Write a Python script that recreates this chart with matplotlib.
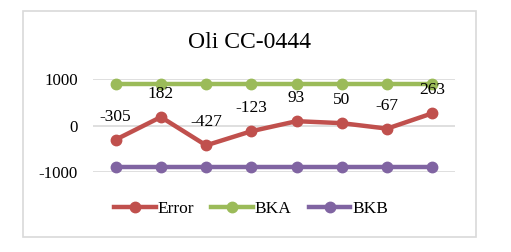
import matplotlib
matplotlib.use("Agg")
import matplotlib.pyplot as plt
from matplotlib.patches import Rectangle

title = "Oli CC-0444"
categories = list(range(1, 9))
error = [-305, 182, -427, -123, 93, 50, -67, 263]
bka = [900] * 8
bkb = [-900] * 8
yticks = [-1000, 0, 1000]

plt.rcParams['font.family'] = ['Liberation Serif', 'DejaVu Serif']

fig = plt.figure(figsize=(5.11, 2.52), dpi=100)
fig.patch.set_facecolor('white')
fig.patches.append(Rectangle((23/511, 1-237/252), (476-23)/511, (237-11)/252,
                             transform=fig.transFigure, fill=False,
                             edgecolor='#D9D9D9', linewidth=1.2))

ax = fig.add_axes([93/511, 1-172/252, (455-93)/511, (172-79)/252])
x = list(range(len(categories)))
lw = 3.2
ms = 7.5
ax.plot(x, error, color='#C0504D', lw=lw, marker='o', ms=ms, label='Error', clip_on=False, zorder=3)
ax.plot(x, bka, color='#9BBB59', lw=lw, marker='o', ms=ms, label='BKA', clip_on=False, zorder=3)
ax.plot(x, bkb, color='#8064A2', lw=lw, marker='o', ms=ms, label='BKB', clip_on=False, zorder=3)

for xi, v in zip(x, error):
    ax.annotate(str(v), (xi, v), xytext=(0, 16.5), textcoords='offset points',
                ha='center', va='center', fontsize=12.5, color='black', zorder=4)

ax.set_xlim(-0.5, len(categories) - 0.5)
ax.set_ylim(-1000, 1000)
ax.set_yticks(yticks)
ax.set_yticklabels([str(t) for t in yticks])
ax.set_xticks([])
ax.tick_params(axis='y', length=0, pad=11, labelsize=12.2)
ax.grid(axis='y', color='#D9D9D9', lw=1.2)
ax.set_axisbelow(True)
for s in ax.spines.values():
    s.set_visible(False)

fig.text(249/511, 1-42/252, title, ha='center', va='center', fontsize=17)

fig.legend(loc='center', bbox_to_anchor=(251/511, 1-209/252), ncol=3, frameon=False,
           fontsize=12.5, handlelength=2.4, handletextpad=0.1, columnspacing=1.0)

fig.savefig('out.png', dpi=100)
